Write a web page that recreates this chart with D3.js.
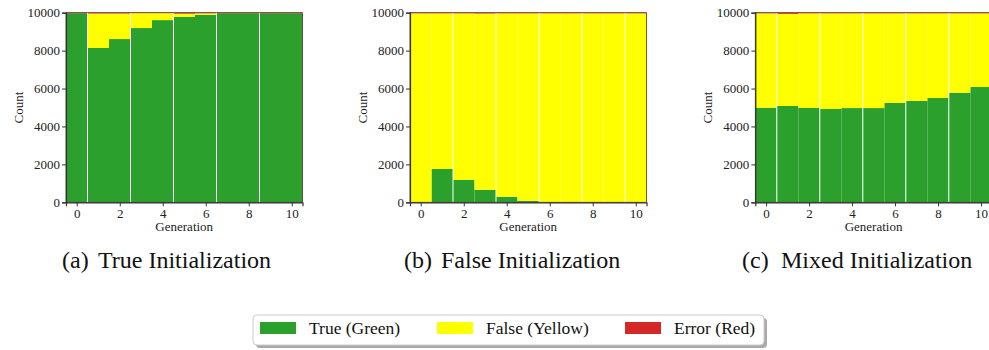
<!DOCTYPE html>
<html>
<head>
<meta charset="utf-8">
<script src="https://cdn.jsdelivr.net/npm/d3@7"></script>
<style>
  html, body { margin: 0; padding: 0; background: #fff; }
  svg { display: block; }
</style>
</head>
<body>
<svg id="chart" width="989" height="350"></svg>
<script>
// Generations on the x axis
const generations = [0, 1, 2, 3, 4, 5, 6, 7, 8, 9, 10];

// Counts per generation (out of 10000) for each initialization
const trueInitTrue  = [9975, 8140, 8610, 9190, 9610, 9780, 9890, 9975, 9975, 9975, 9975];
const trueInitFalse = [0, 1820, 1350, 790, 370, 170, 80, 0, 0, 0, 0];
const trueInitError = [25, 40, 40, 20, 20, 50, 30, 25, 25, 25, 25];

const falseInitTrue  = [0, 1760, 1180, 660, 290, 80, 0, 0, 0, 0, 0];
const falseInitFalse = [9970, 8210, 8790, 9300, 9680, 9890, 9970, 9970, 9970, 9970, 9970];
const falseInitError = [30, 30, 30, 40, 30, 30, 30, 30, 30, 30, 30];

const mixedInitTrue  = [4990, 5080, 4980, 4920, 4970, 4970, 5240, 5350, 5500, 5780, 6080];
const mixedInitFalse = [4980, 4860, 4990, 5050, 5000, 5000, 4730, 4620, 4470, 4190, 3890];
const mixedInitError = [30, 60, 30, 30, 30, 30, 30, 30, 30, 30, 30];

// Light bin separators drawn over the bars
const trueInitSeparators  = [0.5, 2.5, 4.5, 6.5, 8.5];
const falseInitSeparators = [1.5, 3.5, 5.5, 7.5, 9.5];
const mixedInitSeparators = [0.5, 2.5, 4.5, 6.5, 8.5];

const xTicks = [0, 2, 4, 6, 8, 10];
const yTicks = [0, 2000, 4000, 6000, 8000, 10000];

const seriesNames  = ["True (Green)", "False (Yellow)", "Error (Red)"];
const seriesColors = ["#2ca02c", "#ffff00", "#d62728"];

const panels = [
  { tag: "(a)", name: "True Initialization",  left: 66,    values: [trueInitTrue, trueInitFalse, trueInitError],    seps: trueInitSeparators,  tagX: 62,  nameX: 98 },
  { tag: "(b)", name: "False Initialization", left: 410,   values: [falseInitTrue, falseInitFalse, falseInitError], seps: falseInitSeparators, tagX: 404, nameX: 441 },
  { tag: "(c)", name: "Mixed Initialization", left: 755.3, values: [mixedInitTrue, mixedInitFalse, mixedInitError], seps: mixedInitSeparators, tagX: 742, nameX: 781 }
];

const serif = '"Liberation Serif", "Times New Roman", Times, "DejaVu Serif", serif';
const svg = d3.select("#chart").attr("font-family", serif);
const plotW = 236.5, plotTop = 12.7, plotBottom = 202.3;
const axisColor = "#333";

const y = d3.scaleLinear().domain([0, 10000]).range([plotBottom, plotTop]);

panels.forEach(p => {
  const x = d3.scaleLinear().domain([-0.5, 10.5]).range([p.left, p.left + plotW]);
  const g = svg.append("g");

  const rows = generations.map((gen, i) => {
    const r = { gen };
    seriesNames.forEach((s, k) => r[s] = p.values[k][i]);
    return r;
  });
  const stacked = d3.stack().keys(seriesNames)(rows);

  stacked.forEach((layer, k) => {
    g.append("g").selectAll("rect").data(layer).join("rect")
      .attr("x", d => x(d.data.gen - 0.5))
      .attr("width", d => x(d.data.gen + 0.5) - x(d.data.gen - 0.5))
      .attr("y", d => y(d[1]))
      .attr("height", d => y(d[0]) - y(d[1]))
      .attr("fill", seriesColors[k]);
  });

  g.append("g").selectAll("line").data(p.seps).join("line")
    .attr("x1", d => x(d)).attr("x2", d => x(d))
    .attr("y1", plotTop).attr("y2", plotBottom)
    .attr("stroke", "#fff").attr("stroke-width", 1);

  // frame
  g.append("rect")
    .attr("x", x(-0.5)).attr("y", plotTop)
    .attr("width", plotW).attr("height", plotBottom - plotTop)
    .attr("fill", "none").attr("stroke", "#5a2a2a").attr("stroke-width", 0.8);

  const xAxis = g.append("g").attr("transform", `translate(0,${plotBottom})`)
    .call(d3.axisBottom(x).tickValues(xTicks).tickSize(4).tickPadding(2));
  const yAxis = g.append("g").attr("transform", `translate(${p.left},0)`)
    .call(d3.axisLeft(y).tickValues(yTicks).tickFormat(d3.format("d")).tickSize(4).tickPadding(2));

  [xAxis, yAxis].forEach(a => {
    a.attr("font-family", serif).attr("font-size", 13);
    a.select(".domain").attr("stroke", axisColor).attr("stroke-width", 1.2);
    a.selectAll(".tick line").attr("stroke", axisColor);
    a.selectAll(".tick text").attr("fill", "#222");
  });

  g.append("text")
    .attr("x", p.left + plotW / 2).attr("y", 231)
    .attr("text-anchor", "middle").attr("font-size", 13).attr("fill", "#222")
    .text("Generation");

  g.append("text")
    .attr("transform", `translate(${p.left - 43},${(plotTop + plotBottom) / 2}) rotate(-90)`)
    .attr("text-anchor", "middle").attr("font-size", 13).attr("fill", "#222")
    .text("Count");

  // sub-caption
  const cap = svg.append("text").attr("y", 268).attr("font-size", 24).attr("fill", "#111");
  cap.append("tspan").attr("x", p.tagX).text(p.tag);
  cap.append("tspan").attr("x", p.nameX).text(p.name);
});

// Legend
const lg = svg.append("g");
lg.append("rect").attr("x", 256).attr("y", 318).attr("width", 511).attr("height", 30)
  .attr("rx", 4).attr("fill", "#aaa");
lg.append("rect").attr("x", 253).attr("y", 315).attr("width", 511).attr("height", 30)
  .attr("rx", 4).attr("fill", "#fff").attr("stroke", "#ccc").attr("stroke-width", 1);

const legendX = [260, 437, 625];
seriesNames.forEach((s, k) => {
  lg.append("rect").attr("x", legendX[k]).attr("y", 322).attr("width", 36).attr("height", 12)
    .attr("fill", seriesColors[k]);
  lg.append("text").attr("x", legendX[k] + 49).attr("y", 334)
    .attr("font-size", 17.5).attr("fill", "#111").text(s);
});
</script>
</body>
</html>
